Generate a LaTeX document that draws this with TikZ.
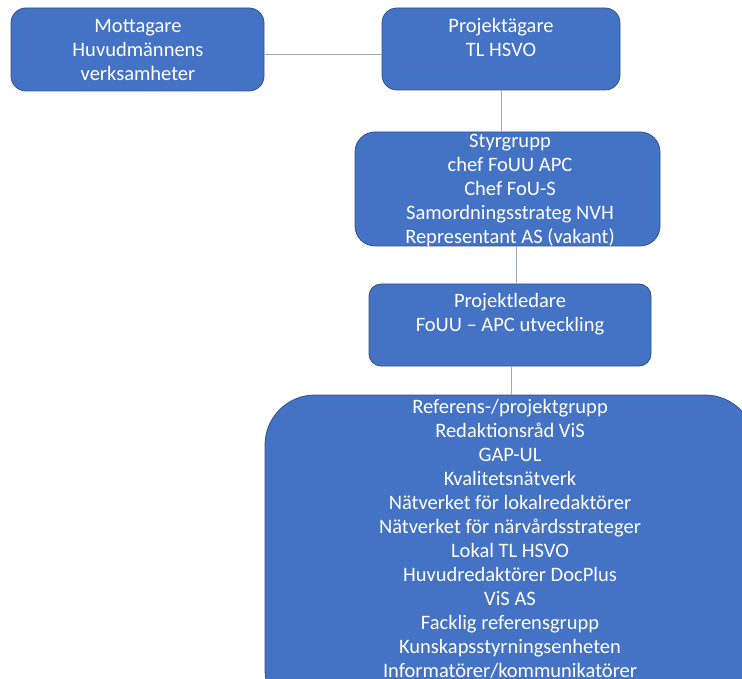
\documentclass[tikz,border=0pt]{standalone}
\usepackage{fontspec}
\setmainfont{Carlito}
\usetikzlibrary{calc}
\definecolor{boxfill}{HTML}{4472C4}
\definecolor{boxline}{HTML}{2F528F}
\definecolor{connline}{HTML}{A0A4BC}
\begin{document}
\begin{tikzpicture}[x=1pt,y=-1pt,
  box/.style={draw=boxline, line width=0.8pt, fill=boxfill, inner sep=0pt, rectangle},
  txt/.style={text=white, align=center, inner sep=0pt, anchor=north, font=\fontsize{20.5}{24}\selectfont},
  conn/.style={draw=connline, line width=1pt}]
\clip (0,0) rectangle (742,679);
\fill[white] (0,0) rectangle (742,679);
% boxes
\node[box, rounded corners=15pt, minimum width=253pt, minimum height=83pt] (mott) at (137.5,49.5) {};
\node[box, rounded corners=15pt, minimum width=238pt, minimum height=82pt] (proj) at (501,49) {};
\node[box, rounded corners=20pt, minimum width=305pt, minimum height=114pt] (styr) at (507.5,189) {};
\node[box, rounded corners=12pt, minimum width=282pt, minimum height=82pt] (led) at (510,325) {};
\node[box, rounded corners=50pt, minimum width=490pt, minimum height=325pt] (ref) at (510,557.5) {};
% connectors
\draw[conn] ([yshift=-5.5pt]mott.east) -- ([yshift=-6pt]proj.west);
\draw[conn] (proj.south) -- (proj.south |- styr.north);
\draw[conn] ([xshift=8.5pt]styr.south) -- ([xshift=8.5pt]styr.south |- led.north);
\draw[conn] ([xshift=1pt]led.south) -- ([xshift=1pt]led.south |- ref.north);
% texts
\node[txt] (mottT) at (138,15.2) {\strut Mottagare\\Huvudmännens\\verksamheter};
\node[txt] (projT) at (501,15.2) {\strut Projektägare\\TL HSVO};
\node[txt] (styrT) at (510,130.2) {\strut Styrgrupp\\chef FoUU APC\\Chef FoU-S\\Samordningsstrateg NVH\\Representant AS (vakant)};
\node[txt] (ledT) at (510,290.2) {\strut Projektledare\\FoUU – APC utveckling};
\node[txt] (refT) at (510,396.2) {\strut Referens-/projektgrupp\\Redaktionsråd ViS\\GAP-UL\\Kvalitetsnätverk\\Nätverket för lokalredaktörer\\Nätverket för närvårdsstrateger\\Lokal TL HSVO\\Huvudredaktörer DocPlus\\ViS AS\\Facklig referensgrupp\\Kunskapsstyrningsenheten\\Informatörer/kommunikatörer};
\end{tikzpicture}
\end{document}
